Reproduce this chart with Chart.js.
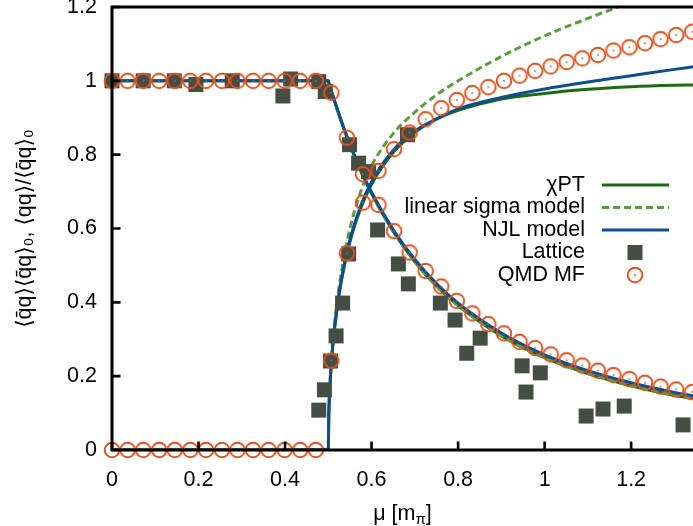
<!DOCTYPE html>
<html><head><meta charset="utf-8">
<script src="https://cdn.jsdelivr.net/npm/chart.js@4/dist/chart.umd.min.js"></script>
<style>html,body{margin:0;padding:0;background:#fff;overflow:hidden}canvas{display:block}</style>
</head><body><canvas id="c" width="693" height="526"></canvas>
<script>
// ---- tick labels ----
const xTickValues = [0, 0.2, 0.4, 0.6, 0.8, 1, 1.2];
const xTickLabels = ['0', '0.2', '0.4', '0.6', '0.8', '1', '1.2'];
const yTickValues = [0, 0.2, 0.4, 0.6, 0.8, 1, 1.2];
const yTickLabels = ['0', '0.2', '0.4', '0.6', '0.8', '1', '1.2'];
const xTitle = ['μ [m', 'π', ']'];
const yTitle = '⟨q̄q⟩⟨q̄q⟩₀, ⟨qq⟩/⟨q̄q⟩₀';

// ---- model curves (μ in m_π) ----
const lineMu       = [0, 0.5, 0.501, 0.502, 0.505, 0.51, 0.52, 0.53, 0.55, 0.575, 0.6, 0.65, 0.7, 0.75, 0.8, 0.9, 1.0, 1.1, 1.2, 1.3, 1.343];
const chptChiral   = [1, 1, 0.996, 0.992, 0.980, 0.961, 0.925, 0.890, 0.826, 0.756, 0.694, 0.592, 0.510, 0.444, 0.391, 0.309, 0.250, 0.207, 0.174, 0.148, 0.139];
const chptPion     = [0, 0, 0.089, 0.126, 0.198, 0.277, 0.381, 0.456, 0.564, 0.655, 0.720, 0.806, 0.860, 0.896, 0.920, 0.951, 0.966, 0.977, 0.984, 0.988, 0.989];
const sigmaChiral  = [1, 1, 0.996, 0.992, 0.980, 0.961, 0.925, 0.890, 0.826, 0.756, 0.694, 0.592, 0.510, 0.444, 0.391, 0.309, 0.250, 0.207, 0.174, 0.148, 0.139];
const sigmaPion    = [0, 0, 0.092, 0.130, 0.205, 0.290, 0.400, 0.480, 0.600, 0.700, 0.770, 0.857, 0.915, 0.962, 1.000, 1.066, 1.122, 1.169, 1.213, 1.252, 1.268];
const njlChiral    = [1, 1, 0.996, 0.992, 0.980, 0.962, 0.926, 0.892, 0.828, 0.759, 0.698, 0.597, 0.516, 0.451, 0.398, 0.317, 0.258, 0.215, 0.182, 0.156, 0.147];
const njlPion      = [0, 0, 0.090, 0.128, 0.200, 0.280, 0.385, 0.462, 0.570, 0.662, 0.727, 0.812, 0.864, 0.897, 0.924, 0.955, 0.978, 0.997, 1.014, 1.031, 1.038];

// ---- lattice ----
const latChiralMu = [0, 0.072, 0.144, 0.194, 0.278, 0.395, 0.413, 0.478, 0.493, 0.549, 0.570, 0.614, 0.662, 0.685, 0.759, 0.793, 0.820, 0.851, 0.948, 0.957, 0.990, 1.096, 1.135, 1.184, 1.320];
const latChiral   = [1.0, 1.0, 1.0, 0.99, 1.0, 0.959, 1.005, 0.998, 0.971, 0.827, 0.777, 0.596, 0.504, 0.450, 0.398, 0.352, 0.262, 0.303, 0.228, 0.157, 0.209, 0.092, 0.111, 0.119, 0.068];
const latPionMu   = [0.478, 0.491, 0.505, 0.518, 0.533, 0.547, 0.593, 0.683];
const latPion     = [0.108, 0.163, 0.241, 0.309, 0.398, 0.531, 0.754, 0.854];

// ---- QMD mean field ----
const qmdMu     = [0, 0.036, 0.072, 0.109, 0.145, 0.181, 0.217, 0.254, 0.290, 0.326, 0.362, 0.399, 0.435, 0.471, 0.507, 0.543, 0.580, 0.616, 0.652, 0.688, 0.725, 0.761, 0.797, 0.833, 0.870, 0.906, 0.942, 0.978, 1.014, 1.051, 1.087, 1.123, 1.159, 1.196, 1.232, 1.268, 1.304, 1.341];
const qmdChiral = [1, 1, 1, 1, 1, 1, 1, 1, 1, 1, 1, 1, 1, 1, 0.968, 0.846, 0.747, 0.664, 0.593, 0.535, 0.485, 0.443, 0.404, 0.370, 0.341, 0.316, 0.293, 0.276, 0.259, 0.243, 0.229, 0.215, 0.203, 0.192, 0.182, 0.172, 0.164, 0.157];
const qmdPion   = [0, 0, 0, 0, 0, 0, 0, 0, 0, 0, 0, 0, 0, 0, 0.242, 0.533, 0.670, 0.756, 0.815, 0.860, 0.896, 0.926, 0.948, 0.967, 0.983, 1.000, 1.014, 1.027, 1.039, 1.051, 1.061, 1.070, 1.082, 1.091, 1.102, 1.113, 1.124, 1.133];

const legendLabels = ['χPT', 'linear sigma model', 'NJL model', 'Lattice', 'QMD MF'];

const FONT = "'Liberation Sans','DejaVu Sans',Arial,sans-serif";
const FS = 21.5;
const C_CHPT = '#1d6b10', C_SIGMA = '#5b9d3e', C_NJL = '#0c4f8f', C_LAT = '#454e44', C_QMD = '#e5501c';

function pts(xs, ys) { return xs.map((x, i) => ({x: x, y: ys[i]})); }
function makeCircle(color) {
  const c = document.createElement('canvas'); c.width = 20; c.height = 20;
  const g = c.getContext('2d');
  g.strokeStyle = color; g.lineWidth = 1.9;
  g.beginPath(); g.arc(10, 10, 7.3, 0, Math.PI * 2); g.stroke();
  g.fillStyle = color; g.fillRect(9.2, 9.2, 1.6, 1.6);
  return c;
}
const qmdMarker = makeCircle(C_QMD);

function lineDs(label, xs, ys, color, dash, order, legendRow) {
  return {label: label, data: pts(xs, ys), showLine: true, borderColor: color, backgroundColor: color,
    borderWidth: 3, borderDash: dash, pointRadius: 0, cubicInterpolationMode: 'monotone', order: order, legendRow: legendRow};
}

const datasets = [
  lineDs(legendLabels[0], lineMu, chptChiral, C_CHPT, [], 5, 0),
  lineDs(legendLabels[0], lineMu, chptPion, C_CHPT, [], 5, undefined),
  lineDs(legendLabels[1], lineMu, sigmaChiral, C_SIGMA, [7, 4], 4, 1),
  lineDs(legendLabels[1], lineMu, sigmaPion, C_SIGMA, [7, 4], 4, undefined),
  lineDs(legendLabels[2], lineMu, njlChiral, C_NJL, [], 3, 2),
  lineDs(legendLabels[2], lineMu, njlPion, C_NJL, [], 3, undefined),
  {label: legendLabels[3], data: pts(latChiralMu, latChiral), showLine: false, pointStyle: 'rect', pointRadius: 10.6,
   backgroundColor: C_LAT, borderWidth: 0, borderColor: C_LAT, clip: false, order: 2, legendRow: 3},
  {label: legendLabels[3], data: pts(latPionMu, latPion), showLine: false, pointStyle: 'rect', pointRadius: 10.6,
   backgroundColor: C_LAT, borderWidth: 0, borderColor: C_LAT, clip: false, order: 2},
  {label: legendLabels[4], data: pts(qmdMu, qmdChiral), showLine: false, pointStyle: qmdMarker, pointRadius: 8,
   clip: false, order: 1, legendRow: 4},
  {label: legendLabels[4], data: pts(qmdMu, qmdPion), showLine: false, pointStyle: qmdMarker, pointRadius: 8,
   clip: false, order: 1}
];

const framePlugin = {
  id: 'frame',
  afterDatasetsDraw(chart) {
    const {ctx, chartArea: a, scales} = chart;
    ctx.save();
    ctx.strokeStyle = '#000';
    // inward ticks
    ctx.lineWidth = 2.6;
    ctx.beginPath();
    xTickValues.forEach(v => { const p = scales.x.getPixelForValue(v); ctx.moveTo(p, a.bottom); ctx.lineTo(p, a.bottom - 8.5); });
    yTickValues.forEach(v => { const p = scales.y.getPixelForValue(v); ctx.moveTo(a.left, p); ctx.lineTo(a.left + 8.5, p); });
    ctx.stroke();
    // border: left, bottom, top
    ctx.lineWidth = 3;
    ctx.beginPath();
    ctx.moveTo(a.right + 2, a.top); ctx.lineTo(a.left, a.top); ctx.lineTo(a.left, a.bottom); ctx.lineTo(a.right + 2, a.bottom);
    ctx.stroke();
    // legend
    ctx.font = FS + 'px ' + FONT;
    ctx.textAlign = 'right'; ctx.textBaseline = 'middle'; ctx.fillStyle = '#000';
    chart.data.datasets.forEach(d => {
      if (d.legendRow === undefined) return;
      const y = 185 + d.legendRow * 22.5;
      ctx.fillStyle = '#000';
      ctx.fillText(d.label, 585, y);
      if (d.showLine) {
        ctx.strokeStyle = d.borderColor; ctx.lineWidth = d.borderWidth; ctx.setLineDash(d.borderDash || []);
        ctx.beginPath(); ctx.moveTo(602, y); ctx.lineTo(669, y); ctx.stroke(); ctx.setLineDash([]);
      } else if (d.pointStyle === 'rect') {
        ctx.fillStyle = d.backgroundColor; ctx.fillRect(635 - 7.5, y - 7.5, 15, 15);
      } else {
        ctx.drawImage(d.pointStyle, 635 - 10, Math.round(y) - 10);
      }
    });
    // x-axis title with subscript
    const cx = (a.left + a.right) / 2, ty = 514;
    ctx.fillStyle = '#000'; ctx.textAlign = 'left'; ctx.textBaseline = 'middle';
    ctx.font = FS + 'px ' + FONT; const w1 = ctx.measureText(xTitle[0]).width, w3 = ctx.measureText(xTitle[2]).width;
    ctx.font = '15px ' + FONT; const w2 = ctx.measureText(xTitle[1]).width;
    let x0 = cx - (w1 + w2 + w3) / 2;
    ctx.font = FS + 'px ' + FONT; ctx.fillText(xTitle[0], x0, ty);
    ctx.font = '15px ' + FONT; ctx.fillText(xTitle[1], x0 + w1, ty + 6);
    ctx.font = FS + 'px ' + FONT; ctx.fillText(xTitle[2], x0 + w1 + w2, ty);
    ctx.restore();
  }
};

Chart.defaults.font.family = FONT;
Chart.defaults.font.size = FS;
Chart.defaults.color = '#000';

new Chart(document.getElementById('c'), {
  type: 'scatter',
  data: {datasets: datasets},
  options: {
    responsive: false, animation: false, devicePixelRatio: 1,
    layout: {autoPadding: false, padding: {top: 7, left: 0, right: 0, bottom: 0}},
    plugins: {legend: {display: false}, tooltip: {enabled: false}},
    scales: {
      x: {type: 'linear', min: 0, max: 1.343,
        grid: {display: false, drawTicks: false}, border: {display: false},
        ticks: {padding: 17, maxRotation: 0, autoSkip: false,
          callback: v => { const i = xTickValues.indexOf(v); return i < 0 ? null : xTickLabels[i]; }},
        afterBuildTicks: s => { s.ticks = xTickValues.map(v => ({value: v})); },
        afterFit: s => { s.height = 76; s.paddingLeft = 0; s.paddingRight = 0; }
      },
      y: {type: 'linear', min: 0, max: 1.2,
        grid: {display: false, drawTicks: false}, border: {display: false},
        ticks: {padding: 15, autoSkip: false,
          callback: v => { const i = yTickValues.indexOf(v); return i < 0 ? null : yTickLabels[i]; }},
        afterBuildTicks: s => { s.ticks = yTickValues.map(v => ({value: v})); },
        title: {display: true, text: yTitle, font: {size: FS}, padding: {top: 12, bottom: 0}},
        afterFit: s => { s.width = 112; s.paddingTop = 0; s.paddingBottom = 0; }
      }
    }
  },
  plugins: [framePlugin]
});
</script>
</body></html>
